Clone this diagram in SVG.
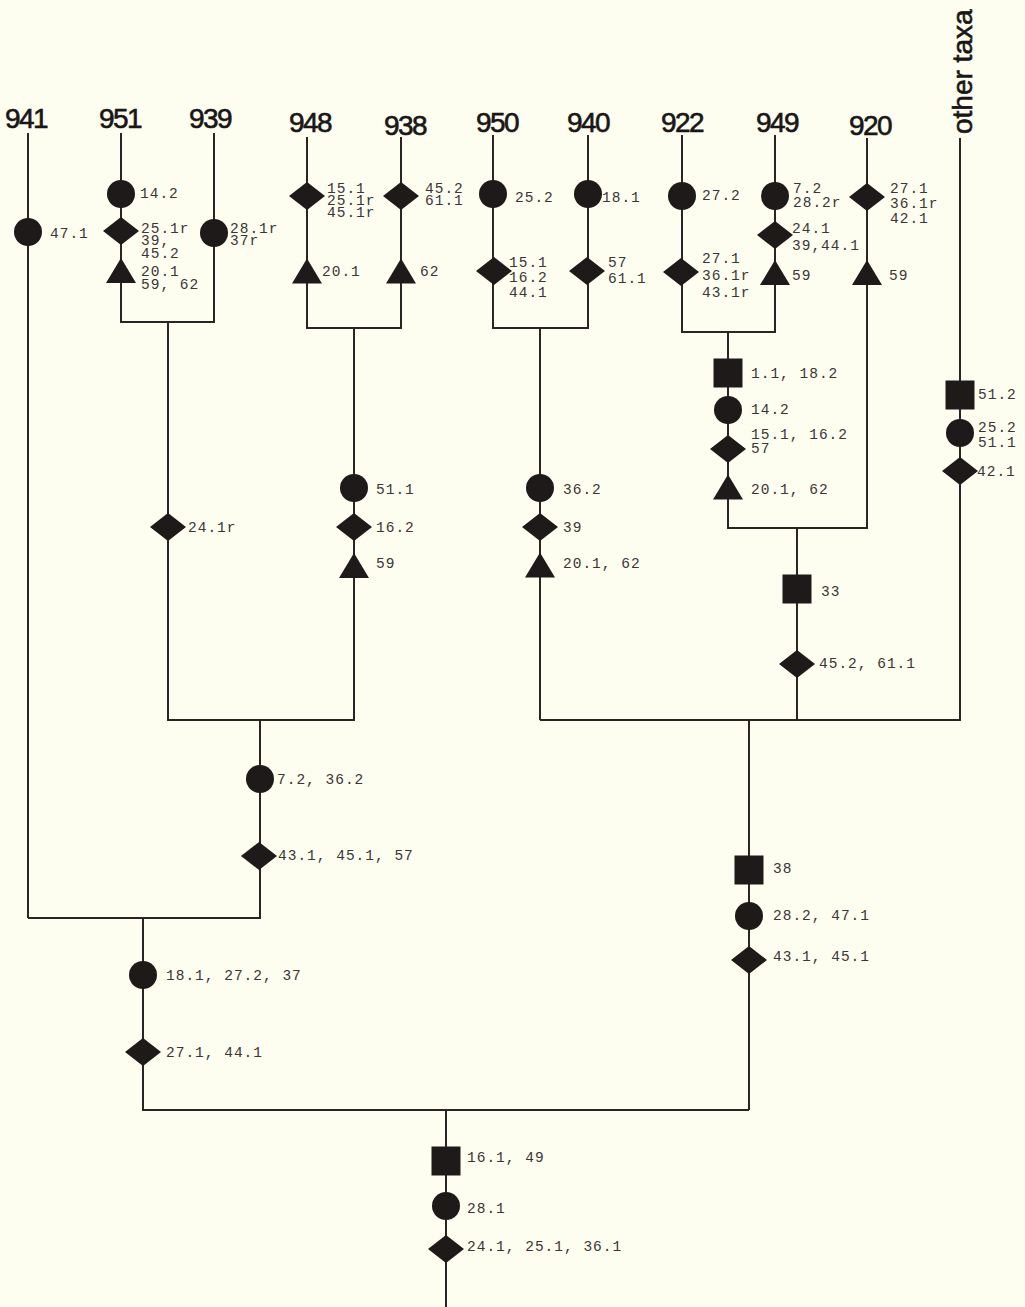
<svg xmlns="http://www.w3.org/2000/svg" xmlns:xlink="http://www.w3.org/1999/xlink" width="1025" height="1307" viewBox="0 0 1025 1307">
<style>
.bg{fill:#FDFDF0}
.ln{fill:none;stroke:#2b2424;stroke-width:2}
.mk{fill:#1f1a1a}
.tx{font-family:"Liberation Mono","DejaVu Sans Mono",monospace;font-size:14.5px;letter-spacing:1px;fill:#3a3636}
.tax{font-family:"Liberation Sans","DejaVu Sans",sans-serif;font-size:28px;fill:#1a1616;text-anchor:middle;letter-spacing:-1.5px;stroke:#1a1616;stroke-width:0.6}
</style>
<defs>
<circle id="c" r="14" class="mk"/>
<polygon id="d" points="-18,0 0,-14 18,0 0,14" class="mk"/>
<rect id="s" x="-14.5" y="-14.5" width="29" height="29" class="mk"/>
<polygon id="t" points="0,-12.5 15,12.5 -15,12.5" class="mk"/>
</defs>
<rect class="bg" x="0" y="0" width="1025" height="1307"/>
<g id="connectors">
<path class="ln" d="M28,133 V918"/>
<path class="ln" d="M121,133 V322 H214 V133"/>
<path class="ln" d="M168,322 V720 H354 V328"/>
<path class="ln" d="M307,137 V328 H401 V137"/>
<path class="ln" d="M493,135 V328 H588 V135"/>
<path class="ln" d="M540,328 V720"/>
<path class="ln" d="M682,135 V332 H775 V135"/>
<path class="ln" d="M728,332 V528 H867 V138"/>
<path class="ln" d="M797,528 V720"/>
<path class="ln" d="M960,138 V720 H540"/>
<path class="ln" d="M749,720 V1110"/>
<path class="ln" d="M260,720 V918 H28"/>
<path class="ln" d="M143,918 V1110 H749"/>
<path class="ln" d="M446,1110 V1307"/>
</g>
<g id="taxa">
<text id="t941" class="tax" x="26" y="128">941</text>
<text id="t951" class="tax" x="120" y="128">951</text>
<text id="t939" class="tax" x="210" y="128">939</text>
<text id="t948" class="tax" x="310" y="132">948</text>
<text id="t938" class="tax" x="405" y="135">938</text>
<text id="t950" class="tax" x="497" y="132">950</text>
<text id="t940" class="tax" x="588" y="132">940</text>
<text id="t922" class="tax" x="682" y="132">922</text>
<text id="t949" class="tax" x="777" y="132">949</text>
<text id="t920" class="tax" x="870" y="135">920</text>
<text id="tother" class="tax" style="text-anchor:start;font-size:28px;letter-spacing:0" transform="translate(972,134) rotate(-90)">other taxa</text>
</g>
<g id="n941">
<use href="#c" x="28" y="232"/>
<text class="tx" x="50" y="238">47.1</text>
</g>
<g id="n951">
<use href="#c" x="121" y="194"/>
<use href="#d" x="121" y="231"/>
<use href="#t" x="121" y="270.5"/>
<text class="tx" x="140" y="198">14.2</text>
<text class="tx"><tspan x="141" y="233">25.1r</tspan><tspan x="141" y="245">39,</tspan><tspan x="141" y="258">45.2</tspan><tspan x="141" y="276">20.1</tspan><tspan x="141" y="289">59, 62</tspan></text>
</g>
<g id="n939">
<use href="#c" x="214" y="233"/>
<text class="tx"><tspan x="230" y="233">28.1r</tspan><tspan x="230" y="245">37r</tspan></text>
</g>
<g id="n948">
<use href="#d" x="307" y="196"/>
<use href="#t" x="307" y="271"/>
<text class="tx"><tspan x="327" y="193">15.1</tspan><tspan x="327" y="205">25.1r</tspan><tspan x="327" y="217">45.1r</tspan></text>
<text class="tx" x="322" y="276">20.1</text>
</g>
<g id="n938">
<use href="#d" x="401" y="196"/>
<use href="#t" x="401" y="271"/>
<text class="tx"><tspan x="425" y="193">45.2</tspan><tspan x="425" y="205">61.1</tspan></text>
<text class="tx" x="420" y="276">62</text>
</g>
<g id="n950">
<use href="#c" x="493" y="194"/>
<use href="#d" x="494" y="271"/>
<text class="tx" x="515" y="202">25.2</text>
<text class="tx"><tspan x="509" y="267">15.1</tspan><tspan x="509" y="282">16.2</tspan><tspan x="509" y="297">44.1</tspan></text>
</g>
<g id="n940">
<use href="#c" x="588" y="194"/>
<use href="#d" x="587" y="271"/>
<text class="tx" x="602" y="202">18.1</text>
<text class="tx"><tspan x="608" y="267">57</tspan><tspan x="608" y="283">61.1</tspan></text>
</g>
<g id="n922">
<use href="#c" x="682" y="196"/>
<use href="#d" x="681" y="272"/>
<text class="tx" x="702" y="200">27.2</text>
<text class="tx"><tspan x="702" y="263">27.1</tspan><tspan x="702" y="280">36.1r</tspan><tspan x="702" y="297">43.1r</tspan></text>
</g>
<g id="n949">
<use href="#c" x="775" y="196"/>
<use href="#d" x="775" y="235"/>
<use href="#t" x="775" y="272.5"/>
<text class="tx"><tspan x="793" y="193">7.2</tspan><tspan x="793" y="207">28.2r</tspan></text>
<text class="tx"><tspan x="792" y="233">24.1</tspan><tspan x="792" y="250">39,44.1</tspan></text>
<text class="tx" x="792" y="280">59</text>
</g>
<g id="n920">
<use href="#d" x="867" y="197"/>
<use href="#t" x="867" y="272.5"/>
<text class="tx"><tspan x="890" y="193">27.1</tspan><tspan x="890" y="208">36.1r</tspan><tspan x="890" y="223">42.1</tspan></text>
<text class="tx" x="889" y="280">59</text>
</g>
<g id="n922-949">
<use href="#s" x="728" y="373"/>
<use href="#c" x="728" y="410"/>
<use href="#d" x="728" y="449"/>
<use href="#t" x="728" y="487"/>
<text class="tx" x="751" y="378">1.1, 18.2</text>
<text class="tx" x="751" y="414">14.2</text>
<text class="tx"><tspan x="751" y="439">15.1, 16.2</tspan><tspan x="751" y="453">57</tspan></text>
<text class="tx" x="751" y="494">20.1, 62</text>
</g>
<g id="nother">
<use href="#s" x="960" y="395"/>
<use href="#c" x="960" y="433"/>
<use href="#d" x="960" y="471"/>
<text class="tx" x="978" y="399">51.2</text>
<text class="tx"><tspan x="978" y="432">25.2</tspan><tspan x="978" y="447">51.1</tspan></text>
<text class="tx" x="977" y="476">42.1</text>
</g>
<g id="n920-clade">
<use href="#s" x="797" y="589"/>
<use href="#d" x="797" y="664"/>
<text class="tx" x="821" y="596">33</text>
<text class="tx" x="819" y="668">45.2, 61.1</text>
</g>
<g id="n951-939">
<use href="#d" x="168" y="527"/>
<text class="tx" x="188" y="532">24.1r</text>
</g>
<g id="n948-938">
<use href="#c" x="354" y="488"/>
<use href="#d" x="354" y="527"/>
<use href="#t" x="354" y="565.5"/>
<text class="tx" x="376" y="494">51.1</text>
<text class="tx" x="376" y="532">16.2</text>
<text class="tx" x="376" y="568">59</text>
</g>
<g id="n950-940">
<use href="#c" x="540" y="488"/>
<use href="#d" x="540" y="527"/>
<use href="#t" x="540" y="565"/>
<text class="tx" x="563" y="494">36.2</text>
<text class="tx" x="563" y="532">39</text>
<text class="tx" x="563" y="568">20.1, 62</text>
</g>
<g id="n-left-inner">
<use href="#c" x="260" y="779"/>
<use href="#d" x="259" y="856"/>
<text class="tx" x="277" y="784">7.2, 36.2</text>
<text class="tx" x="278" y="860">43.1, 45.1, 57</text>
</g>
<g id="n-right">
<use href="#s" x="749" y="870"/>
<use href="#c" x="749" y="916"/>
<use href="#d" x="749" y="960"/>
<text class="tx" x="773" y="873">38</text>
<text class="tx" x="773" y="920">28.2, 47.1</text>
<text class="tx" x="773" y="961">43.1, 45.1</text>
</g>
<g id="n-left">
<use href="#c" x="143" y="975"/>
<use href="#d" x="143" y="1052"/>
<text class="tx" x="166" y="980">18.1, 27.2, 37</text>
<text class="tx" x="166" y="1057">27.1, 44.1</text>
</g>
<g id="n-root">
<use href="#s" x="446" y="1161"/>
<use href="#c" x="446" y="1206"/>
<use href="#d" x="446" y="1249"/>
<text class="tx" x="467" y="1162">16.1, 49</text>
<text class="tx" x="467" y="1213">28.1</text>
<text class="tx" x="467" y="1251">24.1, 25.1, 36.1</text>
</g>
</svg>
